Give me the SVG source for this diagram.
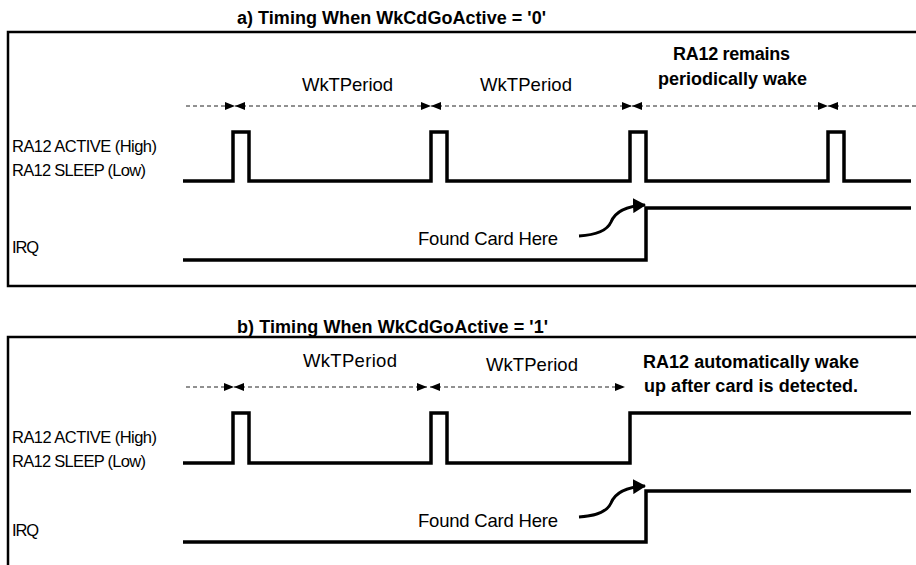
<svg xmlns="http://www.w3.org/2000/svg" width="916" height="565" viewBox="0 0 916 565">
<style>
  .frame { fill: none; stroke: #000; stroke-width: 2.5; }
  .sig { fill: none; stroke: #000; stroke-width: 3.5; stroke-linejoin: miter; }
  .dash { fill: none; stroke: #222; stroke-width: 1; stroke-dasharray: 4 3; }
  .curve { fill: none; stroke: #000; stroke-width: 3; }
  .t { font-family: "Liberation Sans", Arial, sans-serif; fill: #000; }
  .title { font-size: 18px; font-weight: bold; }
  .lbl { font-size: 16.5px; }
  .per { font-size: 18.5px; }
  .note { font-size: 18px; font-weight: bold; }
</style>
<defs>
  <marker id="ah" viewBox="0 0 10 8" refX="10" refY="4" markerWidth="10" markerHeight="8" markerUnits="userSpaceOnUse" orient="auto-start-reverse">
    <path d="M0,0 L10,4 L0,8 Z" fill="#000"/>
  </marker>
  <marker id="ch" viewBox="0 0 13 15" refX="12" refY="7.5" markerWidth="13" markerHeight="15" markerUnits="userSpaceOnUse" orient="auto">
    <path d="M0,0 L13,7.5 L0,15 Z" fill="#000"/>
  </marker>
</defs>

<g id="panel-a">
  <path class="frame" d="M916,32 H8 V286 H916"/>
  <text class="t title" x="237" y="24" textLength="309">a) Timing When WkCdGoActive = '0'</text>
  <g id="a-labels">
    <text class="t lbl" x="12" y="152" textLength="145">RA12 ACTIVE (High)</text>
    <text class="t lbl" x="12" y="176" textLength="134">RA12 SLEEP (Low)</text>
    <text class="t lbl" x="12" y="253" textLength="27">IRQ</text>
  </g>
  <g id="a-ra12">
    <path class="sig" d="M183,181 H233 V132 H249 V181 H431 V132 H447 V181 H630 V132 H646 V181 H828 V132 H844 V181 H911"/>
  </g>
  <g id="a-irq">
    <path class="sig" d="M183,260 H646 V208 H911"/>
  </g>
  <g id="a-texts">
    <text class="t per" x="302" y="91" textLength="91">WkTPeriod</text>
    <text class="t per" x="480" y="91" textLength="92">WkTPeriod</text>
    <text class="t note" x="673" y="60" textLength="117">RA12 remains</text>
    <text class="t note" x="658" y="85" textLength="149">periodically wake</text>
    <text class="t per" x="418" y="245" textLength="140">Found Card Here</text>
  </g>
</g>

<g id="panel-b">
  <path class="frame" d="M916,337 H8 V566"/>
  <text class="t title" x="237" y="333" textLength="311">b) Timing When WkCdGoActive = '1'</text>
  <g id="b-labels">
    <text class="t lbl" x="12" y="443" textLength="145">RA12 ACTIVE (High)</text>
    <text class="t lbl" x="12" y="467" textLength="134">RA12 SLEEP (Low)</text>
    <text class="t lbl" x="12" y="536" textLength="27">IRQ</text>
  </g>
  <g id="b-ra12">
    <path class="sig" d="M183,463 H233 V413 H249 V463 H431 V413 H447 V463 H630 V413 H911"/>
  </g>
  <g id="b-irq">
    <path class="sig" d="M183,542 H646 V491 H911"/>
  </g>
  <g id="b-texts">
    <text class="t per" x="303" y="367" textLength="94">WkTPeriod</text>
    <text class="t per" x="486" y="371" textLength="92">WkTPeriod</text>
    <text class="t note" x="643" y="368" textLength="216">RA12 automatically wake</text>
    <text class="t note" x="644" y="392" textLength="214">up after card is detected.</text>
    <text class="t per" x="418" y="527" textLength="140">Found Card Here</text>
  </g>
</g>

<g id="connectors">
  <path class="dash" d="M186,106 H235" marker-end="url(#ah)"/>
  <path class="dash" d="M235,106 H431" marker-start="url(#ah)" marker-end="url(#ah)"/>
  <path class="dash" d="M431,106 H632" marker-start="url(#ah)" marker-end="url(#ah)"/>
  <path class="dash" d="M632,106 H828" marker-start="url(#ah)" marker-end="url(#ah)"/>
  <path class="dash" d="M828,106 H916" marker-start="url(#ah)"/>

  <path class="dash" d="M186,387 H234" marker-end="url(#ah)"/>
  <path class="dash" d="M234,387 H427" marker-start="url(#ah)" marker-end="url(#ah)"/>
  <path class="dash" d="M430,387 H625" marker-start="url(#ah)" marker-end="url(#ah)"/>

  <path class="curve" d="M579,236 C596,235 607,231 611,222 C615,212 626,206 645,205" marker-end="url(#ch)"/>
  <path class="curve" d="M579,517 C596,516 607,512 611,503 C615,493 626,487 645,486" marker-end="url(#ch)"/>
</g>
</svg>
